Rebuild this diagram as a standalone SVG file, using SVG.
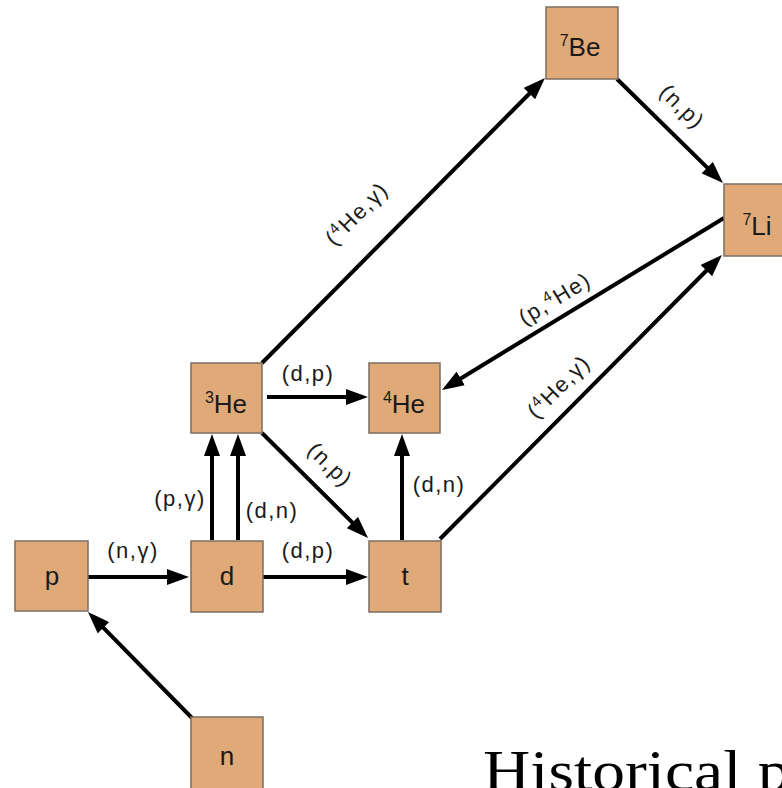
<svg xmlns="http://www.w3.org/2000/svg" width="782" height="788" viewBox="0 0 782 788">
<style>
.box{fill:#DFA978;stroke:#7d6e60;stroke-width:1.5}
.nl{font-family:"Liberation Sans",Arial,sans-serif;font-size:26px;fill:#1a1a1a;text-anchor:middle}
.sup{font-size:16px}
.el{font-family:"Liberation Sans",Arial,sans-serif;font-size:22px;fill:#1a1a1a;text-anchor:middle;letter-spacing:1.5px}
.esup{font-size:15px}
.c{stroke:#000;stroke-width:4;fill:none;marker-end:url(#ah)}
.title{font-family:"Liberation Serif","Times New Roman",serif;font-size:58px;fill:#000}
</style>
<defs>
<marker id="ah" markerUnits="userSpaceOnUse" markerWidth="22" markerHeight="16" refX="10" refY="8" orient="auto">
<path d="M0,0 L22,8 L0,16 z" fill="#000"/>
</marker>
</defs>
<rect width="782" height="788" fill="#fff"/>
<g id="connectors">
<line class="c" x1="88" y1="577" x2="177" y2="577"/>
<line class="c" x1="262" y1="577" x2="356" y2="577"/>
<line class="c" x1="267" y1="397" x2="356" y2="397"/>
<line class="c" x1="212" y1="540" x2="212" y2="446"/>
<line class="c" x1="238" y1="540" x2="238" y2="446"/>
<line class="c" x1="402" y1="540" x2="402" y2="446"/>
<line class="c" x1="192" y1="718" x2="96.4" y2="620.6"/>
<line class="c" x1="262" y1="433" x2="359.5" y2="529.6"/>
<line class="c" x1="262" y1="363" x2="536.5" y2="86.5"/>
<line class="c" x1="617" y1="79" x2="714.4" y2="174.6"/>
<line class="c" x1="724" y1="218" x2="452.2" y2="383.7"/>
<line class="c" x1="440" y1="539" x2="713.5" y2="263.5"/>
</g>
<g id="edge-labels">
<text class="el" x="133" y="558">(n,γ)</text>
<text class="el" x="180" y="506">(p,γ)</text>
<text class="el" x="272" y="518">(d,n)</text>
<text class="el" x="308" y="558">(d,p)</text>
<text class="el" x="308" y="381">(d,p)</text>
<text class="el" x="439" y="492">(d,n)</text>
<text class="el" transform="translate(330,465) rotate(44.7)" x="0" y="7">(n,p)</text>
<text class="el" transform="translate(682,107) rotate(44.5)" x="0" y="7">(n,p)</text>
<text class="el" transform="translate(357,214) rotate(-45.2)" x="0" y="7">(<tspan class="esup" dy="-8">4</tspan><tspan dy="8">He,γ)</tspan></text>
<text class="el" transform="translate(555,299) rotate(-31.4)" x="0" y="7">(p,<tspan class="esup" dy="-8">4</tspan><tspan dy="8">He)</tspan></text>
<text class="el" transform="translate(559,387) rotate(-45.2)" x="0" y="7">(<tspan class="esup" dy="-8">4</tspan><tspan dy="8">He,γ)</tspan></text>
</g>
<g id="node-p"><rect class="box" x="15" y="541" width="73" height="70"/><text class="nl" x="52" y="585">p</text></g>
<g id="node-d"><rect class="box" x="191" y="541" width="72" height="71"/><text class="nl" x="227" y="585">d</text></g>
<g id="node-t"><rect class="box" x="369" y="541" width="72" height="71"/><text class="nl" x="405" y="585">t</text></g>
<g id="node-n"><rect class="box" x="191" y="717" width="72" height="72"/><text class="nl" x="227" y="765">n</text></g>
<g id="node-3He"><rect class="box" x="191" y="363" width="71" height="70"/><text class="nl" x="226" y="413"><tspan class="sup" dy="-10">3</tspan><tspan dy="10">He</tspan></text></g>
<g id="node-4He"><rect class="box" x="369" y="363" width="71" height="70"/><text class="nl" x="404" y="413"><tspan class="sup" dy="-10">4</tspan><tspan dy="10">He</tspan></text></g>
<g id="node-7Be"><rect class="box" x="546" y="7" width="72" height="72"/><text class="nl" x="580" y="56"><tspan class="sup" dy="-10">7</tspan><tspan dy="10">Be</tspan></text></g>
<g id="node-7Li"><rect class="box" x="724" y="184" width="72" height="72"/><text class="nl" x="757" y="235"><tspan class="sup" dy="-10">7</tspan><tspan dy="10">Li</tspan></text></g>
<text class="title" transform="translate(483,790) scale(1.13,1)">Historical p</text>
</svg>
